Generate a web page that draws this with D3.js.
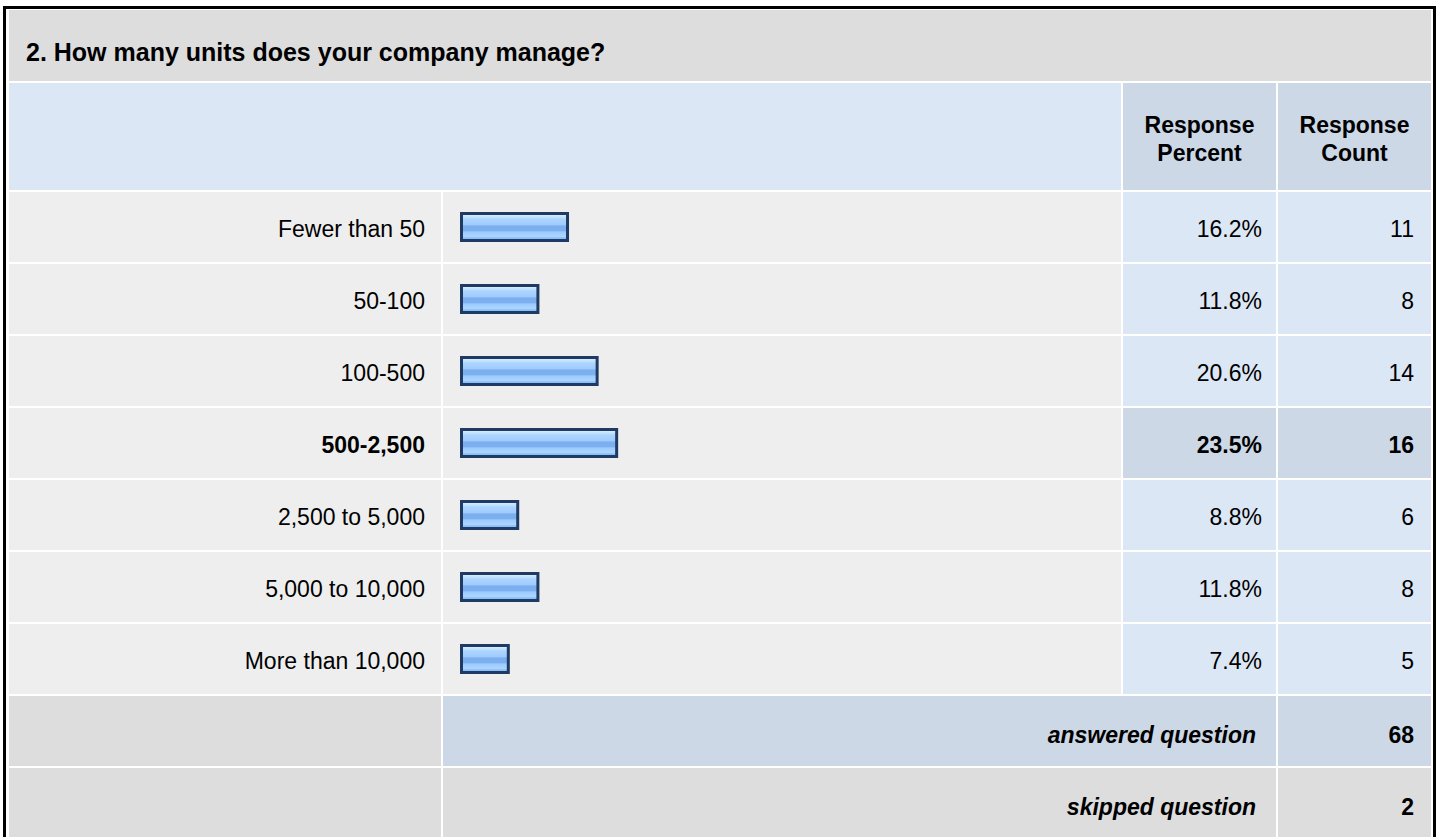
<!DOCTYPE html>
<html>
<head>
<meta charset="utf-8">
<script src="https://cdn.jsdelivr.net/npm/d3@7/dist/d3.min.js"></script>
<style>
  html, body { margin: 0; padding: 0; background: #ffffff; }
  svg { display: block; }
  text { font-family: "Liberation Sans", Arial, Helvetica, sans-serif; fill: #000; }
</style>
</head>
<body>
<svg id="chart" width="1440" height="837"></svg>
<script>
// ---- data ----
const title = "2. How many units does your company manage?";
const categories = ["Fewer than 50", "50-100", "100-500", "500-2,500", "2,500 to 5,000", "5,000 to 10,000", "More than 10,000"];
const percents = [16.2, 11.8, 20.6, 23.5, 8.8, 11.8, 7.4];
const counts = [11, 8, 14, 16, 6, 8, 5];
const headerLabels = [["Response", "Percent"], ["Response", "Count"]];
const footerLabels = ["answered question", "skipped question"];
const footerValues = [68, 2];

// ---- layout ----
const svg = d3.select("#chart");
const FONT = 23;
const colLabel = [9, 441], colBar = [443, 1121], colPct = [1123, 1276], colCnt = [1278, 1431];
const C = {
  title: "#dddddd", head: "#dce7f5", headDark: "#ccd8e6",
  row: "#eeeeee", cell: "#dce7f5", hi: "#ccd8e6", foot: "#dddddd"
};

const maxCount = d3.max(counts);
const rows = categories.map((c, i) => ({ cat: c, pct: percents[i], cnt: counts[i], hi: counts[i] === maxCount }));

const y = d3.scaleBand().domain(categories).range([191, 191 + categories.length * 72]).padding(0);
const yFoot = d3.scaleBand().domain(footerLabels).range([y.range()[1], y.range()[1] + footerLabels.length * 72]).padding(0);
const x = d3.scaleLinear().domain([0, 100]).range([0, 673]);
const barX0 = 460;

function txt(g, str, tx, ty, anchor, opts = {}) {
  return g.append("text")
    .attr("x", tx).attr("y", ty)
    .attr("text-anchor", anchor)
    .style("font-size", (opts.size || FONT) + "px")
    .style("font-weight", opts.bold ? "bold" : "normal")
    .style("font-style", opts.italic ? "italic" : "normal")
    .text(str);
}
function cell(g, col, y0, h, fill) {
  g.append("rect").attr("x", col[0]).attr("y", y0).attr("width", col[1] - col[0]).attr("height", h).attr("fill", fill);
}

// gradient for bars
const defs = svg.append("defs");
const grad = defs.append("linearGradient").attr("id", "barGrad").attr("x1", 0).attr("y1", 0).attr("x2", 0).attr("y2", 1);
[[0, "#e2f1ff"], [0.1, "#cbe5ff"], [0.22, "#aad3ff"], [0.42, "#9fcbfd"], [0.46, "#7cafef"], [0.64, "#7cafef"],
 [0.68, "#9dcaff"], [0.86, "#acd5ff"], [0.9, "#8bbdf6"], [1, "#8bbdf6"]]
  .forEach(([o, c]) => grad.append("stop").attr("offset", o).attr("stop-color", c));

const g = svg.append("g");

// outer border
g.append("rect").attr("x", 4.5).attr("y", 7.5).attr("width", 1430).attr("height", 900)
  .attr("fill", "#ffffff").attr("stroke", "#000").attr("stroke-width", 3);

// title row
cell(g, [9, 1431], 10, 71, C.title);
txt(g, title, 26, 61, "start", { bold: true, size: 25 });

// header row
cell(g, [9, 1121], 83, 107, C.head);
cell(g, colPct, 83, 107, C.headDark);
cell(g, colCnt, 83, 107, C.headDark);
[colPct, colCnt].forEach((col, i) => {
  const cx = (col[0] + col[1]) / 2;
  txt(g, headerLabels[i][0], cx, 132.5, "middle", { bold: true });
  txt(g, headerLabels[i][1], cx, 160.5, "middle", { bold: true });
});

// data rows
const rg = g.selectAll("g.row").data(rows).join("g").attr("class", "row");
rg.each(function (d) {
  const s = d3.select(this);
  const y0 = y(d.cat) + 1, h = y.bandwidth() - 2, cy = y(d.cat) + y.bandwidth() / 2;
  cell(s, colLabel, y0, h, C.row);
  cell(s, colBar, y0, h, C.row);
  cell(s, colPct, y0, h, d.hi ? C.hi : C.cell);
  cell(s, colCnt, y0, h, d.hi ? C.hi : C.cell);
  const w = x(d.pct);
  s.append("rect")
    .attr("x", barX0 + 1.5).attr("y", cy - 13.5)
    .attr("width", w - 3).attr("height", 27)
    .attr("fill", "url(#barGrad)").attr("stroke", "#1f3a63").attr("stroke-width", 3);
  txt(s, d.cat, 425, cy + 10, "end", { bold: d.hi });
  txt(s, d3.format(".1f")(d.pct) + "%", 1262, cy + 10, "end", { bold: d.hi });
  txt(s, String(d.cnt), 1414, cy + 10, "end", { bold: d.hi });
});

// footer rows
footerLabels.forEach((lab, i) => {
  const y0 = yFoot(lab) + 1, h = yFoot.bandwidth() - 2, cy = yFoot(lab) + yFoot.bandwidth() / 2;
  const fill = i === 0 ? C.hi : C.foot;
  cell(g, colLabel, y0, h, C.foot);
  cell(g, [colBar[0], colPct[1]], y0, h, fill);
  cell(g, colCnt, y0, h, fill);
  txt(g, lab, 1256, cy + 11.5, "end", { bold: true, italic: true });
  txt(g, String(footerValues[i]), 1414, cy + 11.5, "end", { bold: true });
});
</script>
</body>
</html>
